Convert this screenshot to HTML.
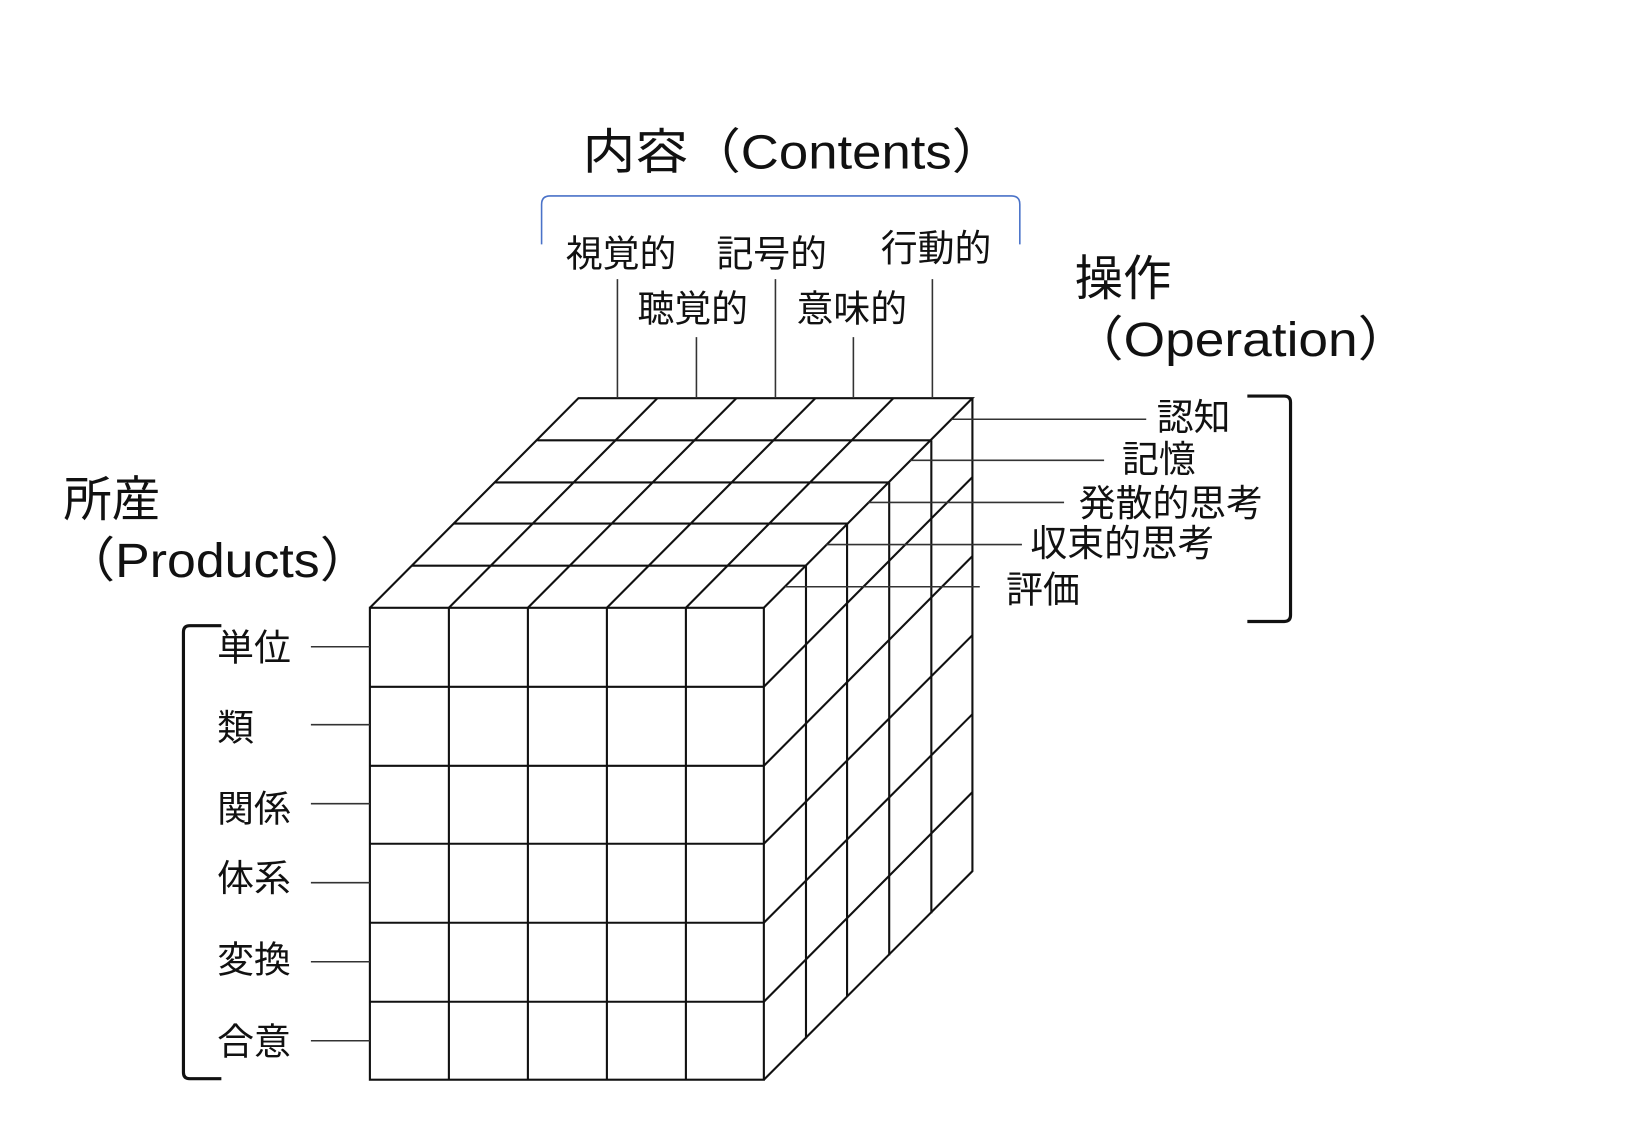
<!DOCTYPE html>
<html><head><meta charset="utf-8"><style>
html,body{margin:0;padding:0;background:#fff;width:1652px;height:1125px;overflow:hidden}
svg{display:block}
text{font-family:"Liberation Sans","Noto Sans CJK JP",sans-serif;fill:#111}
</style></head><body>
<svg width="1652" height="1125" viewBox="0 0 1568 1068" xmlns="http://www.w3.org/2000/svg">
<g stroke="#111" stroke-width="2" fill="none">
<rect x="351" y="577" width="374" height="448"/>
<path d="M426 577V1025M501 577V1025M576 577V1025M651 577V1025"/>
<path d="M351 652H725M351 727H725M351 801H725M351 876H725M351 951H725"/>
<path d="M351 577L549 378H923L725 577"/>
<path d="M426 577L624 378M501 577L699 378M576 577L774 378M651 577L848 378"/>
<path d="M391 537H765M430 497H804M470 458H844M510 418H884"/>
<path d="M923 378V827L725 1025"/>
<path d="M765 537V986M804 497V946M844 458V907M884 418V867"/>
<path d="M725 652L923 453M725 727L923 528M725 801L923 603M725 876L923 678M725 951L923 752"/>
</g>
<g stroke="#333" stroke-width="1.5">
<path d="M586 265V378M661 320V378M736 265V378M810 320V378M885 265V378"/>
<path d="M903 398H1088M864 437H1048M824 477H1010M784 517H970M745 557H930"/>
<path d="M295 614H351M295 688H351M295 763H351M295 838H351M295 913H351M295 988H351"/>
</g>
<path d="M210 594H180Q174 594 174 600V1018Q174 1024 180 1024H210" stroke="#111" stroke-width="3" fill="none"/>
<path d="M1184 376H1219Q1225 376 1225 382V584Q1225 590 1219 590H1184" stroke="#111" stroke-width="3" fill="none"/>
<path d="M514 232V194Q514 186 522 186H960Q968 186 968 194V232" stroke="#4a72c8" stroke-width="1.5" fill="none"/>
<text font-size="46" transform="translate(553,160) scale(1.088,1)">内容（Contents）</text>
<text x="1020" y="280" font-size="46">操作</text>
<text font-size="46" transform="translate(1016,338) scale(1.1,1)">（Operation）</text>
<text x="60" y="490" font-size="46">所産</text>
<text font-size="46" transform="translate(60,548) scale(1.07,1)">（Products）</text>
<g font-size="35">
<text x="537" y="253">視覚的</text>
<text x="680" y="253">記号的</text>
<text x="836" y="248">行動的</text>
<text x="605" y="305">聴覚的</text>
<text x="756" y="305">意味的</text>
<text x="1098" y="408">認知</text>
<text x="1065" y="448">記憶</text>
<text x="1024" y="490">発散的思考</text>
<text x="978" y="528">収束的思考</text>
<text x="955" y="572">評価</text>
<text x="206" y="627">単位</text>
<text x="206" y="703">類</text>
<text x="206" y="780">関係</text>
<text x="206" y="846">体系</text>
<text x="206" y="923">変換</text>
<text x="206" y="1001">合意</text>
</g>
</svg>
</body></html>
